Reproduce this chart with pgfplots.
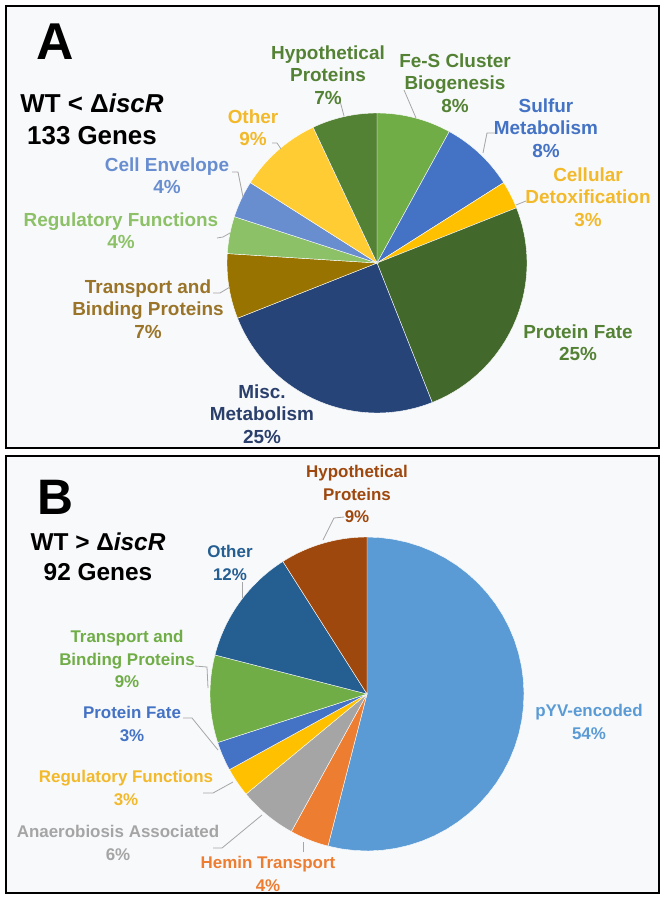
\documentclass[border=0pt]{standalone}
\usepackage{pgfplots}
\pgfplotsset{compat=1.18}
\usepackage{fontspec}
\setmainfont{Liberation Sans}

% Panel A colours
\definecolor{aFeS}{HTML}{70AD47}
\definecolor{aSulf}{HTML}{4472C4}
\definecolor{aDetox}{HTML}{FFC000}
\definecolor{aProt}{HTML}{43682B}
\definecolor{aMisc}{HTML}{264478}
\definecolor{aTrans}{HTML}{997300}
\definecolor{aReg}{HTML}{8CC168}
\definecolor{aCell}{HTML}{698ED0}
\definecolor{aOther}{HTML}{FFCD33}
\definecolor{aHyp}{HTML}{548235}
% Panel B colours
\definecolor{bPYV}{HTML}{5B9BD5}
\definecolor{bHem}{HTML}{ED7D31}
\definecolor{bAna}{HTML}{A5A5A5}
\definecolor{bReg}{HTML}{FFC000}
\definecolor{bProt}{HTML}{4472C4}
\definecolor{bTrans}{HTML}{70AD47}
\definecolor{bOther}{HTML}{255E91}
\definecolor{bHyp}{HTML}{9E480E}
% text colours
\definecolor{tGreen}{HTML}{548235}
\definecolor{tYellow}{HTML}{F2B92B}
\definecolor{tMisc}{HTML}{2B3F6C}
\definecolor{tTrans}{HTML}{9A7428}
\definecolor{panelbg}{HTML}{F8F9FB}
\definecolor{leader}{HTML}{A6A6A6}

\tikzset{
  labA/.style={align=center, font=\bfseries\fontsize{19}{22.5}\selectfont},
  labB/.style={align=center, font=\bfseries\fontsize{17}{22.5}\selectfont},
  lead/.style={draw=leader, line width=0.8bp},
}
\pgfplotsset{pie/.style={draw=white, line width=0.4bp, samples=40}}

\begin{document}
\begin{tikzpicture}
\begin{axis}[
  scale only axis, width=668bp, height=901bp,
  xmin=0, xmax=668, ymin=0, ymax=901, y dir=reverse,
  hide axis, clip=false,
]
% page and panels
\fill[white] (axis cs:0,0) rectangle (axis cs:668,901);
\draw[black, line width=2.5bp, fill=panelbg] (axis cs:6,6) rectangle (axis cs:659,448);
\draw[black, line width=2.5bp, fill=panelbg] (axis cs:6,456) rectangle (axis cs:659,893);

% ---------- Pie A (percent, clockwise from top) ----------
% Fe-S 8, Sulfur 8, Detox 3, Protein Fate 25, Misc 25, Transport 7, Regulatory 4, Cell Envelope 4, Other 9, Hypothetical 7
\addplot[pie, fill=aFeS,   domain=0:8]   ({377+150*sin(3.6*x)},{263-150*cos(3.6*x)}) -- (axis cs:377,263) -- cycle;
\addplot[pie, fill=aSulf,  domain=8:16]  ({377+150*sin(3.6*x)},{263-150*cos(3.6*x)}) -- (axis cs:377,263) -- cycle;
\addplot[pie, fill=aDetox, domain=16:19] ({377+150*sin(3.6*x)},{263-150*cos(3.6*x)}) -- (axis cs:377,263) -- cycle;
\addplot[pie, fill=aProt,  domain=19:44] ({377+150*sin(3.6*x)},{263-150*cos(3.6*x)}) -- (axis cs:377,263) -- cycle;
\addplot[pie, fill=aMisc,  domain=44:69] ({377+150*sin(3.6*x)},{263-150*cos(3.6*x)}) -- (axis cs:377,263) -- cycle;
\addplot[pie, fill=aTrans, domain=69:76] ({377+150*sin(3.6*x)},{263-150*cos(3.6*x)}) -- (axis cs:377,263) -- cycle;
\addplot[pie, fill=aReg,   domain=76:80] ({377+150*sin(3.6*x)},{263-150*cos(3.6*x)}) -- (axis cs:377,263) -- cycle;
\addplot[pie, fill=aCell,  domain=80:84] ({377+150*sin(3.6*x)},{263-150*cos(3.6*x)}) -- (axis cs:377,263) -- cycle;
\addplot[pie, fill=aOther, domain=84:93] ({377+150*sin(3.6*x)},{263-150*cos(3.6*x)}) -- (axis cs:377,263) -- cycle;
\addplot[pie, fill=aHyp,   domain=93:100]({377+150*sin(3.6*x)},{263-150*cos(3.6*x)}) -- (axis cs:377,263) -- cycle;

% ---------- Pie B ----------
% pYV 54, Hemin 4, Anaerobiosis 6, Regulatory 3, Protein Fate 3, Transport 9, Other 12, Hypothetical 9
\addplot[pie, fill=bPYV,   domain=0:54]  ({367+157*sin(3.6*x)},{694-157*cos(3.6*x)}) -- (axis cs:367,694) -- cycle;
\addplot[pie, fill=bHem,   domain=54:58] ({367+157*sin(3.6*x)},{694-157*cos(3.6*x)}) -- (axis cs:367,694) -- cycle;
\addplot[pie, fill=bAna,   domain=58:64] ({367+157*sin(3.6*x)},{694-157*cos(3.6*x)}) -- (axis cs:367,694) -- cycle;
\addplot[pie, fill=bReg,   domain=64:67] ({367+157*sin(3.6*x)},{694-157*cos(3.6*x)}) -- (axis cs:367,694) -- cycle;
\addplot[pie, fill=bProt,  domain=67:70] ({367+157*sin(3.6*x)},{694-157*cos(3.6*x)}) -- (axis cs:367,694) -- cycle;
\addplot[pie, fill=bTrans, domain=70:79] ({367+157*sin(3.6*x)},{694-157*cos(3.6*x)}) -- (axis cs:367,694) -- cycle;
\addplot[pie, fill=bOther, domain=79:91] ({367+157*sin(3.6*x)},{694-157*cos(3.6*x)}) -- (axis cs:367,694) -- cycle;
\addplot[pie, fill=bHyp,   domain=91:100]({367+157*sin(3.6*x)},{694-157*cos(3.6*x)}) -- (axis cs:367,694) -- cycle;

% ---------- Leader lines A ----------
\draw[lead] (axis cs:340,101) -- (axis cs:344,116);
\draw[lead] (axis cs:404,90) -- (axis cs:416,118);
\draw[lead] (axis cs:496,133) -- (axis cs:487,133) -- (axis cs:483,153);
\draw[lead] (axis cs:526,201) -- (axis cs:516,205);
\draw[lead] (axis cs:272,143) -- (axis cs:277,143) -- (axis cs:281,149);
\draw[lead] (axis cs:232,172) -- (axis cs:238,172) -- (axis cs:243,197);
\draw[lead] (axis cs:217,238) -- (axis cs:223,237) -- (axis cs:230,233);
\draw[lead] (axis cs:213,293) -- (axis cs:220,293) -- (axis cs:230,287);

% ---------- Leader lines B ----------
\draw[lead] (axis cs:344,517) -- (axis cs:334,518) -- (axis cs:323,540);
\draw[lead] (axis cs:242,582) -- (axis cs:242,598);
\draw[lead] (axis cs:195,666) -- (axis cs:207,667) -- (axis cs:208,688);
\draw[lead] (axis cs:183,718) -- (axis cs:192,718) -- (axis cs:218,750);
\draw[lead] (axis cs:203,793) -- (axis cs:213,793) -- (axis cs:233,782);
\draw[lead] (axis cs:213,848) -- (axis cs:222,848) -- (axis cs:262,815);
\draw[lead] (axis cs:303,852) -- (axis cs:303,842);

% ---------- Panel titles ----------
\node[font=\bfseries\fontsize{52}{60}\selectfont] at (axis cs:55,42) {A};
\node[align=center, font=\bfseries\fontsize{26}{32}\selectfont] at (axis cs:92,119) {WT < Δ\textit{iscR}\\133 Genes};
\node[font=\bfseries\fontsize{50}{60}\selectfont] at (axis cs:55,497) {B};
\node[align=center, font=\bfseries\fontsize{24.5}{30}\selectfont] at (axis cs:98,557) {WT > Δ\textit{iscR}\\92 Genes};

% ---------- Labels A ----------
\node[labA, text=tGreen] at (axis cs:328,75) {Hypothetical\\Proteins\\7\%};
\node[labA, text=tGreen] at (axis cs:455,83) {Fe-S Cluster\\Biogenesis\\8\%};
\node[labA, text=aSulf] at (axis cs:546,128) {Sulfur\\Metabolism\\8\%};
\node[labA, text=tYellow] at (axis cs:588,197) {Cellular\\Detoxification\\3\%};
\node[labA, text=tGreen] at (axis cs:578,343) {Protein Fate\\25\%};
\node[labA, text=tMisc] at (axis cs:262,414) {Misc.\\Metabolism\\25\%};
\node[labA, text=tTrans] at (axis cs:148,309) {Transport and\\Binding Proteins\\7\%};
\node[labA, text=aReg] at (axis cs:121,231) {Regulatory Functions\\4\%};
\node[labA, text=aCell] at (axis cs:167,176) {Cell Envelope\\4\%};
\node[labA, text=tYellow] at (axis cs:253,128) {Other\\9\%};

% ---------- Labels B ----------
\node[labB, text=bHyp] at (axis cs:357,494) {Hypothetical\\Proteins\\9\%};
\node[labB, text=bOther] at (axis cs:230,563) {Other\\12\%};
\node[labB, text=bTrans] at (axis cs:127,659) {Transport and\\Binding Proteins\\9\%};
\node[labB, text=bProt] at (axis cs:132,724) {Protein Fate\\3\%};
\node[labB, text=tYellow] at (axis cs:126,788) {Regulatory Functions\\3\%};
\node[labB, text=bAna] at (axis cs:118,843) {Anaerobiosis Associated\\6\%};
\node[labB, text=bHem] at (axis cs:268,874) {Hemin Transport\\4\%};
\node[labB, text=bPYV] at (axis cs:589,722) {pYV-encoded\\54\%};
\end{axis}
\end{tikzpicture}
\end{document}
